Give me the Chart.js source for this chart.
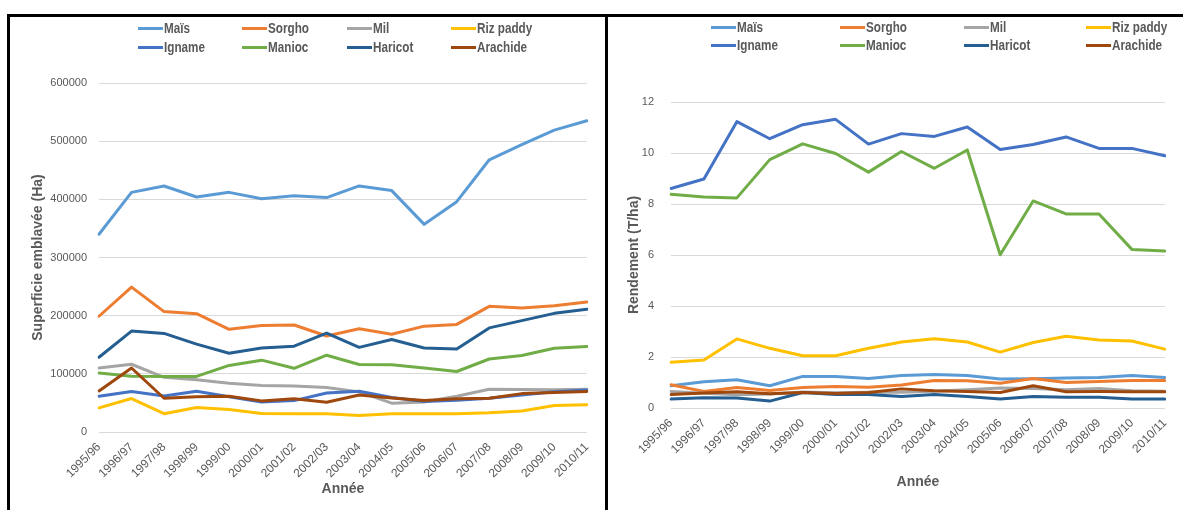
<!DOCTYPE html>
<html lang="fr">
<head>
<meta charset="utf-8">
<title>Superficie emblavée et rendement</title>
<script src="https://cdn.jsdelivr.net/npm/chart.js@4.4.1/dist/chart.umd.min.js"></script>
<style>
  html,body{margin:0;padding:0;background:#fff}
  body{width:1183px;height:510px;position:relative;overflow:hidden;font-family:'Liberation Sans',Arial,sans-serif}
  .frame{position:absolute;background:#000}
  .panel{position:absolute;top:17px}
  .lg-item{position:absolute;display:flex;align-items:center;font:bold 15px 'Liberation Sans',Arial,sans-serif;color:#595959;white-space:nowrap;line-height:16px}
  .lg-line{width:25px;height:3px;margin-right:1px;flex:none}
  .lg-text{display:inline-block;transform:scaleX(0.78);transform-origin:left center}
</style>
</head>
<body>
<div class="frame" style="left:7px;top:14px;width:1176px;height:3px"></div>
<div class="frame" style="left:7px;top:14px;width:3px;height:496px"></div>
<div class="frame" style="left:605px;top:14px;width:3px;height:496px"></div>

<canvas id="surfChart" class="panel" style="left:10px" width="595" height="493"></canvas>
<canvas id="rendChart" class="panel" style="left:608px" width="575" height="493"></canvas>
<div id="surf-legend"></div>
<div id="rend-legend"></div>

<script>
/* ── Categories ── */
const YEARS = ['1995/96','1996/97','1997/98','1998/99','1999/00','2000/01','2001/02','2002/03',
               '2003/04','2004/05','2005/06','2006/07','2007/08','2008/09','2009/10','2010/11'];
const CROPS = ['Maïs','Sorgho','Mil','Riz paddy','Igname','Manioc','Haricot','Arachide'];
const CROP_COLORS = ['#5B9BD5','#ED7D31','#A5A5A5','#FFC000','#4472C4','#70AD47','#255E91','#9E480E'];

/* ── Superficie emblavée (Ha) ── */
const SURF_MAIS     = [340000,412000,423000,404000,412000,401000,406000,403000,423000,415000,357000,396000,468000,494000,519000,535000];
const SURF_SORGHO   = [199000,249000,207000,203500,176500,183000,184000,165000,177500,168000,182000,185000,216000,213000,217000,223500];
const SURF_MIL      = [110000,116500, 94000, 90000, 84000, 80000, 79000, 76500, 69000, 49500, 51500, 61500, 73500, 73000, 72500, 73500];
const SURF_RIZ      = [ 41500, 57500, 31500, 42000, 38500, 32000, 31500, 31500, 28500, 31500, 31500, 31500, 33000, 36000, 45500, 47000];
const SURF_IGNAME   = [ 61500, 69500, 62000, 70000, 60500, 51500, 54000, 67000, 70000, 59500, 52500, 54500, 58000, 63500, 69000, 72000];
const SURF_MANIOC   = [101500, 96000, 95500, 95500,114500,123500,109500,132000,116000,115500,110000,104000,125500,131500,144000,147000];
const SURF_HARICOT  = [128500,173500,169500,151000,135500,144500,147500,170000,145500,159000,144500,142500,179000,191500,204000,211000];
const SURF_ARACHIDE = [ 70500,110000, 58000, 60500, 61500, 53500, 57000, 51000, 63500, 58500, 54000, 57000, 58000, 66000, 68000, 69500];

/* ── Rendement (T/ha) ── */
const REND_MAIS     = [0.87,1.03,1.11,0.87,1.24,1.24,1.16,1.27,1.31,1.27,1.14,1.15,1.18,1.20,1.27,1.20];
const REND_SORGHO   = [0.91,0.65,0.80,0.69,0.80,0.84,0.81,0.90,1.08,1.07,0.97,1.16,1.00,1.04,1.08,1.08];
const REND_MIL      = [0.65,0.58,0.52,0.55,0.63,0.60,0.62,0.62,0.66,0.72,0.78,0.76,0.72,0.76,0.68,0.66];
const REND_RIZ      = [1.79,1.88,2.71,2.34,2.05,2.05,2.34,2.59,2.72,2.59,2.19,2.57,2.81,2.67,2.63,2.31];
const REND_IGNAME   = [8.61,8.98,11.23,10.56,11.11,11.32,10.35,10.76,10.65,11.02,10.14,10.33,10.63,10.18,10.18,9.89];
const REND_MANIOC   = [8.38,8.27,8.24,9.74,10.36,9.98,9.25,10.06,9.40,10.12,6.01,8.12,7.61,7.61,6.22,6.16];
const REND_HARICOT  = [0.35,0.40,0.39,0.27,0.61,0.53,0.53,0.45,0.53,0.45,0.35,0.45,0.42,0.42,0.35,0.35];
const REND_ARACHIDE = [0.53,0.59,0.64,0.56,0.61,0.57,0.61,0.75,0.68,0.65,0.61,0.87,0.64,0.65,0.64,0.64];

const FONT = "'Liberation Sans', Arial, sans-serif";
const GREY = '#595959';

function lineChart(canvasId, seriesList, cfg) {
  const ctx = document.getElementById(canvasId);
  return new Chart(ctx, {
    type:'line',
    data:{
      labels:YEARS,
      datasets: seriesList.map((data,i) => ({
        label:CROPS[i], data,
        borderColor:CROP_COLORS[i], backgroundColor:CROP_COLORS[i],
        borderWidth:3, pointRadius:0, tension:0,
        borderJoinStyle:'round', borderCapStyle:'round',
        order:CROPS.length - i      // later series on top, like the original
      }))
    },
    options:{
      responsive:false, animation:false,
      layout:{ padding:{ top:cfg.padTop, right:cfg.padRight, left:0, bottom:0 } },
      plugins:{ legend:{ display:false }, tooltip:{ enabled:false } },
      scales:{
        x:{
          grid:{ display:false, drawTicks:false }, border:{ display:false },
          ticks:{ autoSkip:false, minRotation:45, maxRotation:45, padding:cfg.xTickPad, color:GREY, font:{ family:FONT, size:12 } },
          title:{ display:true, text:'Année', color:GREY, font:{ family:FONT, size:14, weight:'bold' }, padding:{ top:0, bottom:cfg.xTitlePad } },
          afterFit: s => { s.height = cfg.xHeight; }
        },
        y:{
          min:0, max:cfg.yMax,
          grid:{ color:'#D9D9D9', drawTicks:false }, border:{ display:false },
          ticks:{ stepSize:cfg.yStep, padding:cfg.yTickPad, color:GREY, font:{ family:FONT, size:11 }, callback: v => String(v) },
          title:{ display:true, text:cfg.yTitle, color:GREY, font:{ family:FONT, size:14, weight:'bold' }, padding:{ top:cfg.yTitlePad, bottom:0 } },
          afterFit: s => { s.width = cfg.yWidth; }
        }
      }
    }
  });
}

/* ── Legend in 4 columns x 2 rows ── */
function renderLegend(wrapId, cols, rows) {
  const wrap = document.getElementById(wrapId);
  wrap.innerHTML = CROPS.map((name,i) => {
    const x = cols[i % 4], y = rows[Math.floor(i / 4)];
    return `<div class="lg-item" style="left:${x - 26}px;top:${y - 8}px">
      <span class="lg-line" style="background:${CROP_COLORS[i]}"></span><span class="lg-text">${name}</span></div>`;
  }).join('');
}

lineChart('surfChart',
  [SURF_MAIS,SURF_SORGHO,SURF_MIL,SURF_RIZ,SURF_IGNAME,SURF_MANIOC,SURF_HARICOT,SURF_ARACHIDE],
  { padTop:66, padRight:14, yWidth:89, xHeight:78, yMax:600000, yStep:100000,
    yTitle:'Superficie emblavée (Ha)', yTitlePad:20, yTickPad:12, xTickPad:8, xTitlePad:12 });

lineChart('rendChart',
  [REND_MAIS,REND_SORGHO,REND_MIL,REND_RIZ,REND_IGNAME,REND_MANIOC,REND_HARICOT,REND_ARACHIDE],
  { padTop:85, padRight:2, yWidth:63, xHeight:102, yMax:12, yStep:2,
    yTitle:'Rendement (T/ha)', yTitlePad:18, yTickPad:17, xTickPad:8, xTitlePad:19 });

renderLegend('surf-legend', [164,268,373,477], [28,47]);
renderLegend('rend-legend', [737,866,990,1112], [27,45]);
</script>
</body>
</html>
